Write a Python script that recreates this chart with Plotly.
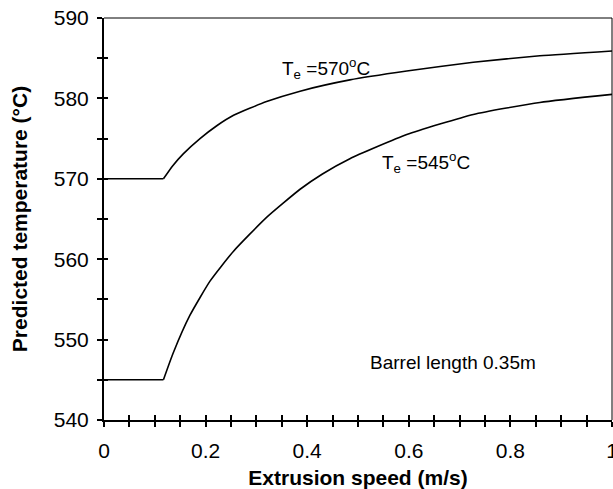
import plotly.graph_objects as go

# Data
speed_570 = [0.0, 0.117, 0.135, 0.156, 0.189, 0.222, 0.255, 0.320, 0.386, 0.484, 0.596, 0.727, 0.858, 1.0]
temp_570 = [570.0, 570.0, 571.6, 573.1, 575.0, 576.6, 577.9, 579.6, 580.9, 582.3, 583.4, 584.5, 585.3, 585.9]

speed_545 = [0.0, 0.117, 0.136, 0.169, 0.209, 0.255, 0.320, 0.386, 0.430, 0.484, 0.596, 0.727, 0.858, 1.0]
temp_545 = [545.0, 545.0, 548.3, 553.0, 557.3, 561.0, 565.2, 568.7, 570.6, 572.5, 575.5, 578.0, 579.5, 580.5]

x_ticks = [0, 0.2, 0.4, 0.6, 0.8, 1]
x_tick_labels = ["0", "0.2", "0.4", "0.6", "0.8", "1"]
y_ticks = [540, 550, 560, 570, 580, 590]

FONT = "Arial, Liberation Sans, sans-serif"

fig = go.Figure()
for xs, ys in ((speed_570, temp_570), (speed_545, temp_545)):
    # flat part (straight) and rising part (smoothed) of the same curve
    fig.add_trace(go.Scatter(x=xs[:2], y=ys[:2], mode="lines",
                             line=dict(color="black", width=1.6), showlegend=False))
    fig.add_trace(go.Scatter(x=xs[1:], y=ys[1:], mode="lines", line_shape="spline",
                             line=dict(color="black", width=1.6, smoothing=0.5), showlegend=False))

common_x = dict(range=[0, 1], showgrid=False, zeroline=False, automargin=False)
common_y = dict(range=[540, 590], showgrid=False, zeroline=False, automargin=False)

fig.update_layout(
    width=613, height=489,
    margin=dict(l=104, r=1, t=18, b=69),
    plot_bgcolor="white", paper_bgcolor="white",
    font=dict(family=FONT, color="black", size=20),
    xaxis=dict(**common_x, tickmode="array", tickvals=x_ticks, ticktext=x_tick_labels,
               ticks="outside", ticklen=5, tickwidth=1.5, tickcolor="black",
               showline=True, linecolor="black", linewidth=2,
               minor=dict(dtick=0.05, ticks="outside", ticklen=5, tickwidth=1.5, tickcolor="black"),
               tickfont=dict(size=21), ticklabelstandoff=6, ticklabeloverflow="allow",
               title=dict(text="<b>Extrusion speed (m/s)</b>", font=dict(size=21), standoff=11)),
    yaxis=dict(**common_y, tickmode="array", tickvals=y_ticks,
               ticks="outside", ticklen=5, tickwidth=1.5, tickcolor="black",
               showline=True, linecolor="black", linewidth=2,
               minor=dict(dtick=5, ticks="outside", ticklen=5, tickwidth=1.5, tickcolor="black"),
               tickfont=dict(size=21), ticklabelstandoff=4,
               title=dict(text="<b>Predicted temperature (°C)</b>", font=dict(size=21), standoff=20)),
    xaxis2=dict(**common_x, overlaying="x", anchor="y", side="bottom",
                tickmode="array", tickvals=x_ticks, showticklabels=False,
                ticks="inside", ticklen=5, tickwidth=1.5, tickcolor="black",
                minor=dict(dtick=0.05, ticks="inside", ticklen=5, tickwidth=1.5, tickcolor="black")),
    yaxis2=dict(**common_y, overlaying="y", anchor="x", side="left",
                tickmode="array", tickvals=y_ticks, showticklabels=False,
                ticks="inside", ticklen=4, tickwidth=1.5, tickcolor="black",
                minor=dict(dtick=5, ticks="inside", ticklen=4, tickwidth=1.5, tickcolor="black")),
    shapes=[
        dict(type="line", xref="paper", yref="paper", x0=0, x1=1, y0=1, y1=1,
             line=dict(color="black", width=1)),
        dict(type="line", xref="paper", yref="paper", x0=1, x1=1, y0=0, y1=1,
             line=dict(color="black", width=1)),
    ],
    annotations=[
        dict(x=0.346, y=583.7, xref="x", yref="y", xanchor="left", yanchor="middle",
             text="T<sub>e</sub> =570<sup>o</sup>C", showarrow=False, font=dict(size=19)),
        dict(x=0.543, y=572.0, xref="x", yref="y", xanchor="left", yanchor="middle",
             text="T<sub>e</sub> =545<sup>o</sup>C", showarrow=False, font=dict(size=19)),
        dict(x=0.52, y=547.2, xref="x", yref="y", xanchor="left", yanchor="middle",
             text="Barrel length 0.35m", showarrow=False, font=dict(size=19)),
    ],
)
# invisible trace to activate the overlay axes that carry the inner tick marks
fig.add_trace(go.Scatter(x=[0], y=[540], xaxis="x2", yaxis="y2", mode="markers",
                         marker=dict(opacity=0), showlegend=False, hoverinfo="skip"))

fig.write_html("out.html", config={"displayModeBar": False},
               post_script="document.body.style.margin='0';document.body.style.overflow='hidden';")
